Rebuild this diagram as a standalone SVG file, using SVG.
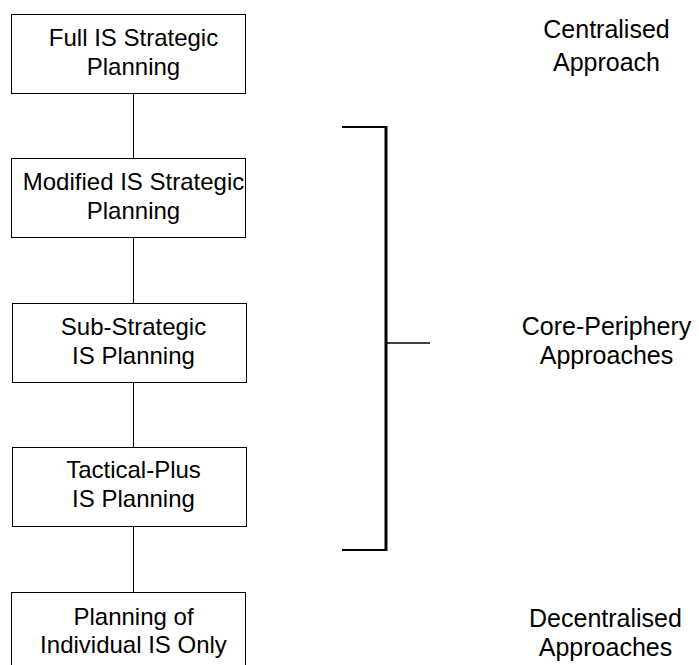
<svg xmlns="http://www.w3.org/2000/svg" width="699" height="665" viewBox="0 0 699 665">
  <style>
    .box { fill: #ffffff; stroke: #000000; stroke-width: 1; }
    .conn { stroke: #000000; stroke-width: 1; fill: none; }
    .brace { stroke: #000000; fill: none; }
    text { font-family: "Liberation Sans", Arial, sans-serif; font-size: 24px; fill: #000000; text-anchor: middle; }
    .side { font-size: 25px; }
  </style>
  <rect width="699" height="665" fill="#ffffff"/>

  <!-- vertical connectors between planning levels -->
  <g id="connectors">
    <line class="conn" x1="133.5" y1="93" x2="133.5" y2="158"/>
    <line class="conn" x1="133.5" y1="237" x2="133.5" y2="303"/>
    <line class="conn" x1="133.5" y1="382" x2="133.5" y2="448"/>
    <line class="conn" x1="133.5" y1="526" x2="133.5" y2="592"/>
  </g>

  <g id="full-is">
    <rect class="box" x="11.5" y="14.5" width="234" height="79"/>
    <text x="133.5" y="45.5">Full IS Strategic</text>
    <text x="133.5" y="74.5">Planning</text>
  </g>

  <g id="modified-is">
    <rect class="box" x="11.5" y="158.5" width="234" height="79"/>
    <text x="133.5" y="189.5">Modified IS Strategic</text>
    <text x="133.5" y="218.5">Planning</text>
  </g>

  <g id="sub-strategic">
    <rect class="box" x="12.5" y="303.5" width="234" height="79"/>
    <text x="133.5" y="334.5">Sub-Strategic</text>
    <text x="133.5" y="363.5">IS Planning</text>
  </g>

  <g id="tactical-plus">
    <rect class="box" x="12.5" y="447.5" width="234" height="79"/>
    <text x="133.5" y="478">Tactical-Plus</text>
    <text x="133.5" y="506.5">IS Planning</text>
  </g>

  <g id="individual-is">
    <rect class="box" x="11.5" y="592.5" width="234" height="80"/>
    <text x="133.5" y="624.5">Planning of</text>
    <text x="133.5" y="652.5">Individual IS Only</text>
  </g>

  <!-- bracket grouping the core-periphery levels -->
  <g id="bracket">
    <line class="brace" x1="342" y1="127" x2="387" y2="127" stroke-width="2"/>
    <line class="brace" x1="386" y1="126" x2="386" y2="551" stroke-width="3"/>
    <line class="brace" x1="342" y1="550" x2="387" y2="550" stroke-width="2"/>
    <line class="brace" x1="387" y1="343" x2="430" y2="343" stroke-width="1.5"/>
  </g>

  <g id="centralised">
    <text class="side" x="606.5" y="37.5">Centralised</text>
    <text class="side" x="606.5" y="71">Approach</text>
  </g>

  <g id="core-periphery">
    <text class="side" x="606.5" y="335">Core-Periphery</text>
    <text class="side" x="606.5" y="364">Approaches</text>
  </g>

  <g id="decentralised">
    <text class="side" x="605.5" y="627">Decentralised</text>
    <text class="side" x="605.5" y="656">Approaches</text>
  </g>
</svg>
